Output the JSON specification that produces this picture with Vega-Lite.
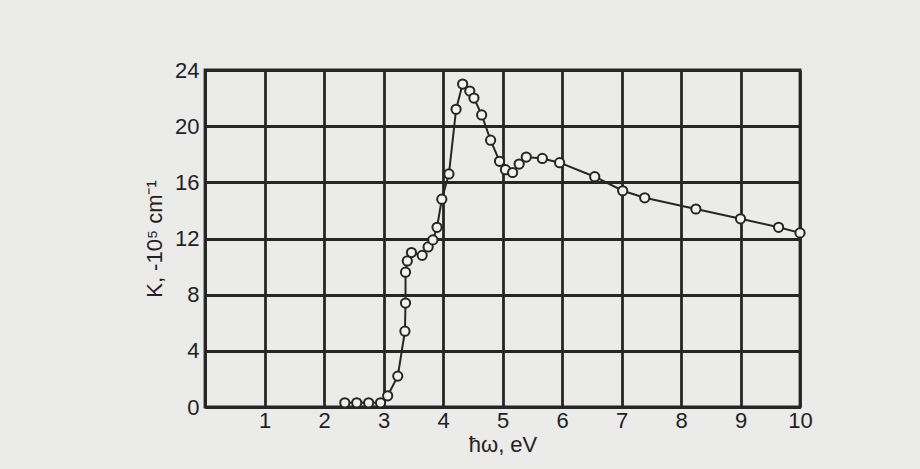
{
  "$schema": "https://vega.github.io/schema/vega-lite/v6.json",
  "autosize": {"type": "none"},
  "padding": {"left": 205, "top": 70, "right": 120, "bottom": 62},
  "width": 595,
  "height": 337,
  "background": "#ebebea",
  "config": {
    "font": "Liberation Sans",
    "view": {"stroke": "#262626", "strokeWidth": 2.8},
    "axis": {
      "labelFont": "Liberation Sans",
      "titleFont": "Liberation Sans",
      "labelFontSize": 22,
      "titleFontSize": 22,
      "titleFontWeight": "normal",
      "labelColor": "#222",
      "titleColor": "#222",
      "gridColor": "#262626",
      "gridWidth": 2.8,
      "gridOpacity": 1,
      "domainColor": "#262626",
      "domainWidth": 2.8,
      "ticks": false
    }
  },
  "data": {
    "values": [
      {"i": 1, "E": 2.35, "K": 0.3},
      {"i": 2, "E": 2.55, "K": 0.3},
      {"i": 3, "E": 2.75, "K": 0.3},
      {"i": 4, "E": 2.95, "K": 0.3},
      {"i": 5, "E": 3.07, "K": 0.8},
      {"i": 6, "E": 3.24, "K": 2.2},
      {"i": 7, "E": 3.36, "K": 5.4},
      {"i": 8, "E": 3.37, "K": 7.4},
      {"i": 9, "E": 3.37, "K": 9.6},
      {"i": 10, "E": 3.4, "K": 10.4},
      {"i": 11, "E": 3.47, "K": 11.0},
      {"i": 12, "E": 3.65, "K": 10.8},
      {"i": 13, "E": 3.75, "K": 11.4},
      {"i": 14, "E": 3.83, "K": 11.9},
      {"i": 15, "E": 3.9, "K": 12.8},
      {"i": 16, "E": 3.98, "K": 14.8},
      {"i": 17, "E": 4.1, "K": 16.6},
      {"i": 18, "E": 4.22, "K": 21.2},
      {"i": 19, "E": 4.33, "K": 23.0},
      {"i": 20, "E": 4.45, "K": 22.5},
      {"i": 21, "E": 4.52, "K": 22.0},
      {"i": 22, "E": 4.65, "K": 20.8},
      {"i": 23, "E": 4.8, "K": 19.0},
      {"i": 24, "E": 4.95, "K": 17.5},
      {"i": 25, "E": 5.05, "K": 16.9},
      {"i": 26, "E": 5.17, "K": 16.7},
      {"i": 27, "E": 5.28, "K": 17.3},
      {"i": 28, "E": 5.4, "K": 17.8},
      {"i": 29, "E": 5.67, "K": 17.7},
      {"i": 30, "E": 5.96, "K": 17.4},
      {"i": 31, "E": 6.55, "K": 16.4},
      {"i": 32, "E": 7.02, "K": 15.4},
      {"i": 33, "E": 7.39, "K": 14.9},
      {"i": 34, "E": 8.25, "K": 14.1},
      {"i": 35, "E": 9.0, "K": 13.4},
      {"i": 36, "E": 9.64, "K": 12.8},
      {"i": 37, "E": 10.0, "K": 12.4}
    ]
  },
  "encoding": {
    "x": {
      "field": "E", "type": "quantitative",
      "scale": {"domain": [0, 10], "nice": false},
      "axis": {
        "title": "ħω, eV",
        "values": [0, 1, 2, 3, 4, 5, 6, 7, 8, 9, 10],
        "labelExpr": "datum.value == 0 ? '' : datum.label",
        "labelPadding": 3,
        "titlePadding": 3,
        "labelFlush": false
      }
    },
    "y": {
      "field": "K", "type": "quantitative",
      "scale": {"domain": [0, 24], "nice": false},
      "axis": {
        "title": "K, -10⁵ cm⁻¹",
        "values": [0, 4, 8, 12, 16, 20, 24],
        "labelPadding": 6,
        "titlePadding": 8,
        "labelFlush": false
      }
    },
    "order": {"field": "i", "type": "quantitative"}
  },
  "layer": [
    {"mark": {"type": "line", "color": "#262626", "strokeWidth": 2}},
    {"mark": {"type": "point", "shape": "circle", "filled": true, "fill": "#f2f2f1", "stroke": "#262626", "strokeWidth": 2, "size": 85, "opacity": 1}}
  ]
}
